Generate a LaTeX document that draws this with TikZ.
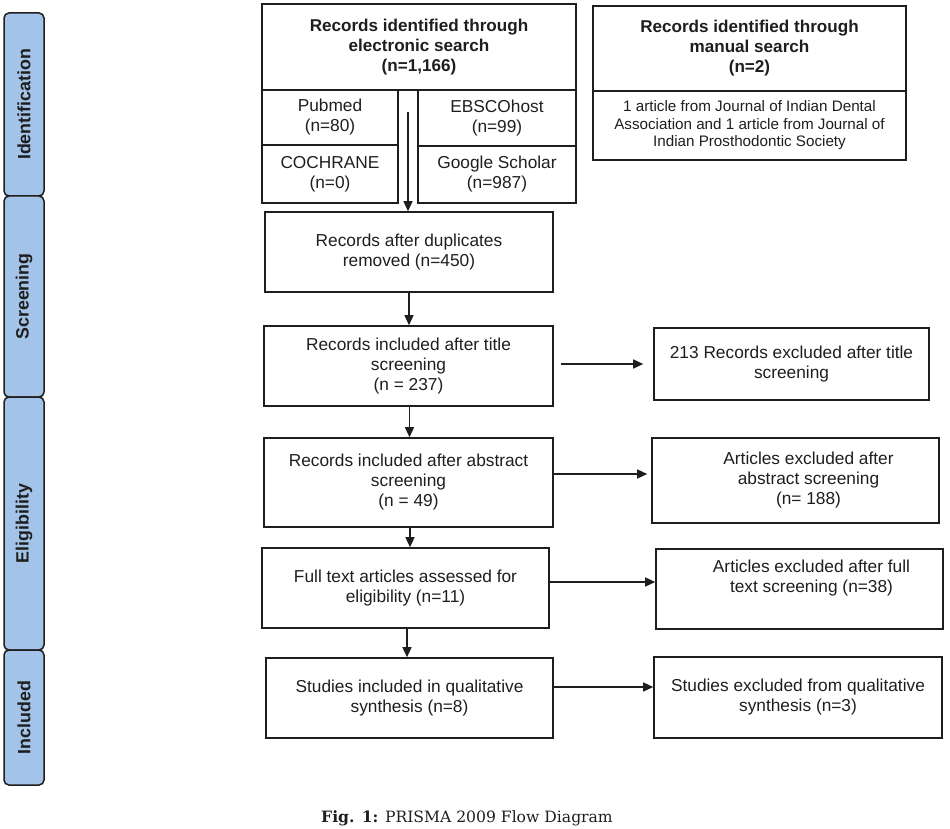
\documentclass[tikz,border=0pt]{standalone}
\usepackage{fontspec}
\setmainfont{Liberation Sans}
\newfontfamily\capfont{DejaVu Serif}
\usetikzlibrary{arrows.meta,calc}
\definecolor{sidebl}{HTML}{A3C4E8}
\definecolor{ink}{HTML}{1E1E1E}
\begin{document}
\begin{tikzpicture}[x=1pt,y=-1pt,
  box/.style={draw=ink, line width=1.6pt, rectangle, align=center, inner sep=2pt,
    font=\fontsize{17.3}{20}\selectfont, text=ink},
  boldbox/.style={box, font=\fontsize{17.1}{20}\selectfont\bfseries},
  smallbox/.style={box, font=\fontsize{15.2}{17.5}\selectfont},
  side/.style={draw=ink, line width=1.5pt, fill=sidebl, rounded corners=5pt,
    rotate=90, minimum height=40pt, inner sep=0pt, text=ink,
    font=\fontsize{17.8}{20}\selectfont\bfseries},
  arr/.style={draw=ink, line width=1.4pt, -{Triangle[length=10pt,width=9pt]}},
  captxt/.style={text=ink, font=\capfont\fontsize{15.6}{18}\selectfont, inner sep=0pt}]
\useasboundingbox (0,0) rectangle (950,829);

% side bar
\node[side, minimum width=183pt] (sId) at (24,104.5) {Identification};
\node[side, minimum width=201pt] (sSc) at (24,296.5) {Screening};
\node[side, minimum width=253pt] (sEl) at (24,523.5) {Eligibility};
\node[side, minimum width=135pt] (sIn) at (24,717.5) {Included};

% identification
\node[boldbox, minimum width=314pt, minimum height=86pt] (elec) at (419,47) {Records identified through\\electronic search\\(n=1,166)};
\node[boldbox, minimum width=313pt, minimum height=85pt] (manual) at (749.5,48.5) {Records identified through\\manual search\\(n=2)};
\node[smallbox, minimum width=313pt, minimum height=69pt] (manualdet) at (749.5,125.5) {1 article from Journal of Indian Dental\\Association and 1 article from Journal of\\Indian Prosthodontic Society};
\node[box, minimum width=136pt, minimum height=55pt] (pubmed) at (330,117.5) {Pubmed\\(n=80)};
\node[box, minimum width=136pt, minimum height=58pt] (cochrane) at (330,174) {COCHRANE\\(n=0)};
\node[box, minimum width=158pt, minimum height=56pt] (ebsco) at (497,118) {EBSCOhost\\(n=99)};
\node[box, minimum width=158pt, minimum height=57pt] (google) at (497,174.5) {Google Scholar\\(n=987)};

% main column
\node[box, minimum width=288pt, minimum height=80pt] (dup) at (409,252) {Records after duplicates\\removed (n=450)};
\node[box, minimum width=289pt, minimum height=80pt] (title) at (408.5,366) {Records included after title\\screening\\(n = 237)};
\node[box, minimum width=289pt, minimum height=89pt] (abs) at (408.5,482.5) {Records included after abstract\\screening\\(n = 49)};
\node[box, minimum width=287pt, minimum height=80pt] (full) at (405.5,588) {Full text articles assessed for\\eligibility (n=11)};
\node[box, minimum width=287pt, minimum height=80pt] (incl) at (409.5,698) {Studies included in qualitative\\synthesis (n=8)};

% exclusion column
\node[box, minimum width=275pt, minimum height=72pt] (exTitle) at (791.5,364) {213 Records excluded after title\\screening};
\node[box, minimum width=287pt, minimum height=85pt] (exAbs) at (795.5,480.5) {\hspace*{26pt}Articles excluded after\\\hspace*{26pt}abstract screening\\\hspace*{26pt}(n= 188)};
\node[box, minimum width=287pt, minimum height=80pt] (exFull) at (799.5,589) {\hspace*{24pt}Articles excluded after full\\\hspace*{24pt}text screening (n=38)\\\strut};
\node[box, minimum width=288pt, minimum height=81pt] (exIncl) at (798,697.5) {Studies excluded from qualitative\\synthesis (n=3)};

% connectors
\coordinate (gapTop) at (408,112);
\draw[arr] (gapTop) -- (gapTop |- dup.north);
\draw[arr] (dup.south) -- (dup.south |- title.north);
\draw[arr] ([xshift=1pt]title.south) -- ([xshift=1pt]title.south |- abs.north);
\draw[arr] ([xshift=1.5pt]abs.south) -- ([xshift=1.5pt]abs.south |- full.north);
\draw[arr] ([xshift=1.5pt]full.south) -- ([xshift=1.5pt]full.south |- incl.north);
\draw[arr, shorten <=7pt, shorten >=10pt] ([yshift=2pt]title.east) -- ([yshift=2pt]title.east -| exTitle.west);
\draw[arr, shorten >=4pt] ([yshift=8.5pt]abs.east) -- ([yshift=8.5pt]abs.east -| exAbs.west);
\draw[arr] ([yshift=6pt]full.east) -- ([yshift=6pt]full.east -| exFull.west);
\draw[arr] ([yshift=11pt]incl.east) -- ([yshift=11pt]incl.east -| exIncl.west);

% caption
\node[captxt] (cap) at (467,818) {\textbf{Fig. 1:} PRISMA 2009 Flow Diagram};
\end{tikzpicture}
\end{document}
